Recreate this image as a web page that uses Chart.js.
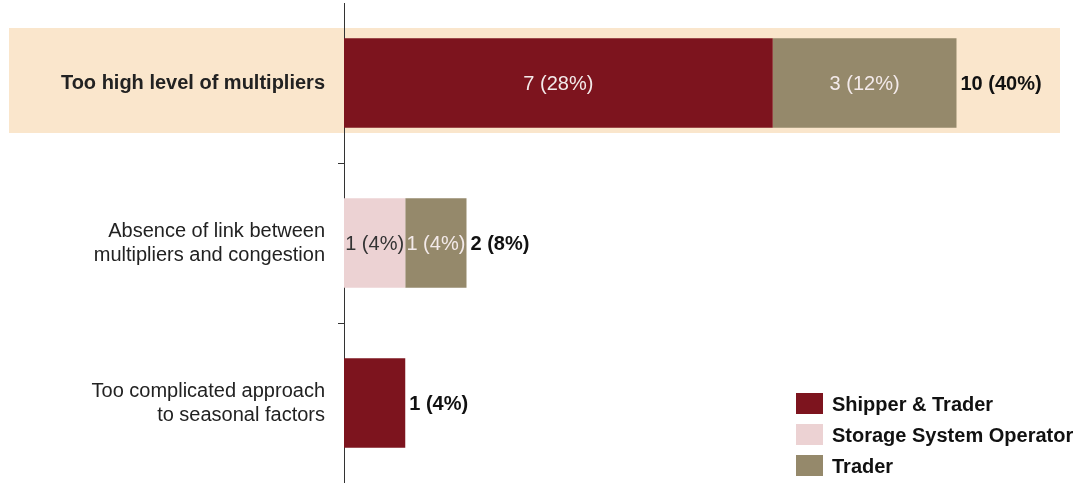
<!DOCTYPE html>
<html lang="en">
<head>
    <meta charset="UTF-8">
    <title>Multipliers feedback</title>
    <script src="https://cdn.jsdelivr.net/npm/chart.js@4.4.2/dist/chart.umd.min.js"></script>
    <style>
        body {
          margin: 0;
          padding: 0;
          background-color: #fff;}
        .chart-box {
          width: 1079px;
          height: 483px;}
    </style>
</head>
<body>
    <div class="chart-box"><canvas id="barChart"></canvas></div>

<script>
    // Values
    const categories = [
        'Too high level of multipliers',
        ['Absence of link between', 'multipliers and congestion'],
        ['Too complicated approach', 'to seasonal factors']
    ];
    const seriesNames = ['Shipper & Trader', 'Storage System Operator', 'Trader'];
    const shipperTrader = [7, 0, 1];
    const storageOperator = [0, 1, 0];
    const trader = [3, 1, 0];
    const respondents = 25;

    const colors = ['#7d141e', '#ecd2d3', '#95896b'];
    const innerText = ['#f3eaea', '#333333', '#f3eaea'];
    const FONT = "'Liberation Sans', Arial, sans-serif";

    function pct(v) {
        return v + ' (' + Math.round(v / respondents * 100) + '%)';
    }

    // peach band behind the first category (drawn before the axis)
    const highlightPlugin = {
        id: 'highlight',
        beforeDraw(chart) {
            const ctx = chart.ctx;
            const y = chart.scales.y.getPixelForValue(0);
            ctx.save();
            ctx.fillStyle = '#fae6cc';
            ctx.fillRect(9, y - 55, 1051, 105);
            ctx.restore();
        }
    };

    // value labels, totals and the legend
    const labelPlugin = {
        id: 'labels',
        afterDatasetsDraw(chart) {
            const ctx = chart.ctx;
            ctx.save();
            ctx.textBaseline = 'middle';
            chart.data.datasets.forEach((ds, di) => {
                const meta = chart.getDatasetMeta(di);
                meta.data.forEach((bar, i) => {
                    const v = ds.data[i];
                    if (!v) return;
                    // single-segment bars only carry the total
                    const parts = [shipperTrader[i], storageOperator[i], trader[i]].filter(x => x > 0);
                    if (parts.length < 2) return;
                    ctx.font = '20px ' + FONT;
                    ctx.fillStyle = innerText[di];
                    ctx.textAlign = 'center';
                    ctx.fillText(pct(v), (bar.x + bar.base) / 2, bar.y + 1);
                });
            });
            // totals
            const xs = chart.scales.x;
            categories.forEach((c, i) => {
                const total = shipperTrader[i] + storageOperator[i] + trader[i];
                const y = chart.getDatasetMeta(0).data[i].y;
                ctx.font = 'bold 20px ' + FONT;
                ctx.fillStyle = '#111';
                ctx.textAlign = 'left';
                ctx.fillText(pct(total), xs.getPixelForValue(total) + 4, y + 1);
            });
            // legend
            seriesNames.forEach((name, i) => {
                const top = 393 + i * 31;
                ctx.fillStyle = colors[i];
                ctx.fillRect(796, top, 27, 21);
                ctx.font = 'bold 20px ' + FONT;
                ctx.fillStyle = '#111';
                ctx.textAlign = 'left';
                ctx.fillText(name, 832, top + 12);
            });
            ctx.restore();
        }
    };

    const ctx = document.getElementById('barChart').getContext('2d');
    const barChart = new Chart(ctx, {
        type: 'bar',
        data: {
            labels: categories,
            datasets: [
                {label: seriesNames[0], data: shipperTrader, backgroundColor: colors[0]},
                {label: seriesNames[1], data: storageOperator, backgroundColor: colors[1]},
                {label: seriesNames[2], data: trader, backgroundColor: colors[2]}
            ]
        },
        options: {
            indexAxis: 'y',
            responsive: true,
            maintainAspectRatio: false,
            animation: false,
            layout: {padding: {top: 3, right: 0, bottom: 0, left: 0}},
            datasets: {bar: {categoryPercentage: 1, barPercentage: 0.56}},
            scales: {
                x: {
                    stacked: true,
                    display: false,
                    min: 0,
                    max: 12},
                y: {
                    stacked: true,
                    afterFit(scale) {
                        scale.width = 344;
                        scale.paddingTop = 0;
                        scale.paddingBottom = 0;},
                    border: {display: true, color: '#333', width: 1},
                    grid: {
                        offset: true,
                        drawOnChartArea: false,
                        tickLength: 6,
                        color: function(context) {
                            if (context.type === 'tick' && context.index > 0) {
                                return '#333';}
                            return 'rgba(0,0,0,0)';}},
                    ticks: {
                        padding: 13,
                        color: '#222',
                        font: function(context) {
                            return {family: FONT, size: 20, lineHeight: 1.2,
                                    weight: context.index === 0 ? 'bold' : 'normal'};}}}},
            plugins: {
                legend: {display: false},
                tooltip: {enabled: false}}},
        plugins: [highlightPlugin, labelPlugin]
    });
</script>
</body>
</html>
